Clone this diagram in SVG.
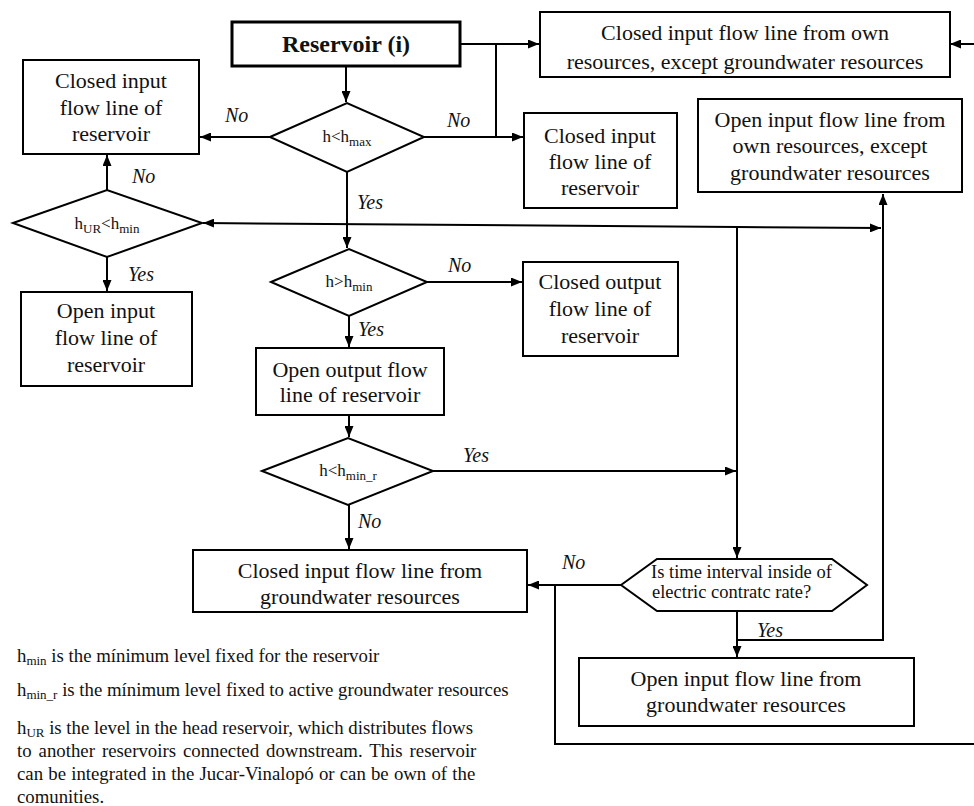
<svg xmlns="http://www.w3.org/2000/svg" width="974" height="806" viewBox="0 0 974 806">
<style>
.box{fill:#fff;stroke:#000;stroke-width:2}
.thick{fill:#fff;stroke:#000;stroke-width:3}
.ln{fill:none;stroke:#000;stroke-width:2}
text{font-family:"Liberation Serif","Times New Roman",serif;fill:#111}
.bt{font-size:22px;text-anchor:middle}
.dt{font-size:17px;text-anchor:middle}
.sub{font-size:13px}
.lsub{font-size:13px}
.lb{font-size:20px;font-style:italic}
.lg{font-size:18.8px}
.hx{font-size:18.5px}
.rs{font-size:24px;font-weight:bold;text-anchor:middle}
</style>
<defs>
<marker id="ah" markerWidth="11" markerHeight="9" refX="11" refY="4.5" orient="auto" markerUnits="userSpaceOnUse"><path d="M0,0 L11,4.5 L0,9 z" fill="#000"/></marker>
</defs>

<g id="connectors">
<path class="ln" d="M346,66 L346,102" marker-end="url(#ah)"/>
<path class="ln" d="M270,137 L200,137" marker-end="url(#ah)"/>
<path class="ln" d="M424,137 L523,137" marker-end="url(#ah)"/>
<path class="ln" d="M460,44 L539,44" marker-end="url(#ah)"/>
<path class="ln" d="M496,44 L496,137"/>
<path class="ln" d="M347,172 L347,248" marker-end="url(#ah)"/>
<path class="ln" d="M107,190 L107,155" marker-end="url(#ah)"/>
<path class="ln" d="M107,257 L107,291" marker-end="url(#ah)"/>
<path class="ln" d="M737,227 L203,223" marker-end="url(#ah)"/>
<path class="ln" d="M737,227 L881,228" marker-end="url(#ah)"/>
<path class="ln" d="M737,227 L737,558" marker-end="url(#ah)"/>
<path class="ln" d="M427,282 L522,282" marker-end="url(#ah)"/>
<path class="ln" d="M349,316 L349,347" marker-end="url(#ah)"/>
<path class="ln" d="M349,415 L349,437" marker-end="url(#ah)"/>
<path class="ln" d="M433,471 L736,471" marker-end="url(#ah)"/>
<path class="ln" d="M349,505 L349,549" marker-end="url(#ah)"/>
<path class="ln" d="M621,585 L528,585" marker-end="url(#ah)"/>
<path class="ln" d="M555,585 L555,744 L974,744"/>
<path class="ln" d="M974,44 L950,44" marker-end="url(#ah)"/>
<path class="ln" d="M737,611 L737,657" marker-end="url(#ah)"/>
<path class="ln" d="M737,640 L883,640 L883,194" marker-end="url(#ah)"/>
</g>

<g id="reservoir">
<rect class="thick" x="232" y="22" width="228" height="44"/>
<text class="rs" x="346" y="52">Reservoir (i)</text>
</g>

<g id="closed-own">
<rect class="box" x="540" y="12" width="410" height="65"/>
<text class="bt" x="745" y="40">Closed input flow line from own</text>
<text class="bt" x="745" y="69">resources, except groundwater resources</text>
</g>

<g id="closed-left">
<rect class="box" x="23" y="60" width="176" height="94"/>
<text class="bt" x="111" y="88">Closed input</text>
<text class="bt" x="111" y="115">flow line of</text>
<text class="bt" x="111" y="141">reservoir</text>
</g>

<g id="d-hmax">
<polygon class="box" points="270,137 347,103 424,137 347,172"/>
<text class="dt" x="347" y="142">h&lt;h<tspan class="sub" dy="4">max</tspan></text>
</g>

<g id="closed-right">
<rect class="box" x="524" y="113" width="153" height="95"/>
<text class="bt" x="600" y="143">Closed input</text>
<text class="bt" x="600" y="169">flow line of</text>
<text class="bt" x="600" y="195">reservoir</text>
</g>

<g id="open-own">
<rect class="box" x="698" y="99" width="264" height="93"/>
<text class="bt" x="830" y="127">Open input flow line from</text>
<text class="bt" x="830" y="153">own resources, except</text>
<text class="bt" x="830" y="180">groundwater resources</text>
</g>

<g id="d-hur">
<polygon class="box" points="13,223 107,190 202,223 107,257"/>
<text class="dt" x="107" y="229">h<tspan class="sub" dy="4">UR</tspan><tspan dy="-4">&lt;h</tspan><tspan class="sub" dy="4">min</tspan></text>
</g>

<g id="open-left">
<rect class="box" x="21" y="292" width="171" height="94"/>
<text class="bt" x="106" y="318">Open input</text>
<text class="bt" x="106" y="345">flow line of</text>
<text class="bt" x="106" y="372">reservoir</text>
</g>

<g id="d-hmin">
<polygon class="box" points="271,282 349,249 427,282 349,316"/>
<text class="dt" x="349" y="287">h&gt;h<tspan class="sub" dy="4">min</tspan></text>
</g>

<g id="closed-output">
<rect class="box" x="523" y="262" width="155" height="94"/>
<text class="bt" x="600" y="289">Closed output</text>
<text class="bt" x="600" y="316">flow line of</text>
<text class="bt" x="600" y="343">reservoir</text>
</g>

<g id="open-output">
<rect class="box" x="256" y="348" width="188" height="67"/>
<text class="bt" x="350" y="377">Open output flow</text>
<text class="bt" x="350" y="402">line of reservoir</text>
</g>

<g id="d-hminr">
<polygon class="box" points="262,471 348,438 433,471 348,505"/>
<text class="dt" x="348" y="476">h&lt;h<tspan class="sub" dy="4">min_r</tspan></text>
</g>

<g id="closed-ground">
<rect class="box" x="193" y="550" width="334" height="62"/>
<text class="bt" x="360" y="578">Closed input flow line from</text>
<text class="bt" x="360" y="604">groundwater resources</text>
</g>

<g id="hexagon">
<polygon class="box" points="621,585 657,559 832,559 867,585 832,611 657,611"/>
<text class="hx" x="651" y="578">Is time interval inside of</text>
<text class="hx" x="652" y="598">electric contratc rate?</text>
</g>

<g id="open-ground">
<rect class="box" x="579" y="658" width="335" height="68"/>
<text class="bt" x="746" y="686">Open input flow line from</text>
<text class="bt" x="746" y="712">groundwater resources</text>
</g>

<g id="labels">
<text class="lb" x="225" y="122">No</text>
<text class="lb" x="447" y="127">No</text>
<text class="lb" x="132" y="183">No</text>
<text class="lb" x="357" y="209">Yes</text>
<text class="lb" x="128" y="281">Yes</text>
<text class="lb" x="448" y="272">No</text>
<text class="lb" x="358" y="336">Yes</text>
<text class="lb" x="463" y="462">Yes</text>
<text class="lb" x="358" y="528">No</text>
<text class="lb" x="562" y="569">No</text>
<text class="lb" x="757" y="637">Yes</text>
</g>

<g id="legend">
<text class="lg" x="17" y="662">h<tspan class="lsub" dy="3">min</tspan><tspan dy="-3"> is the mínimum level fixed for the reservoir</tspan></text>
<text class="lg" x="17" y="696">h<tspan class="lsub" dy="3">min_r</tspan><tspan dy="-3"> is the mínimum level fixed to active groundwater resources</tspan></text>
<text class="lg" x="17" y="734">h<tspan class="lsub" dy="3">UR</tspan><tspan dy="-3"> is the level in the head reservoir, which distributes flows</tspan></text>
<text class="lg" x="17" y="757" word-spacing="2.3">to another reservoirs connected downstream. This reservoir</text>
<text class="lg" x="17" y="780" word-spacing="0.5">can be integrated in the Jucar-Vinalopó or can be own of the</text>
<text class="lg" x="17" y="803">comunities.</text>
</g>
</svg>
